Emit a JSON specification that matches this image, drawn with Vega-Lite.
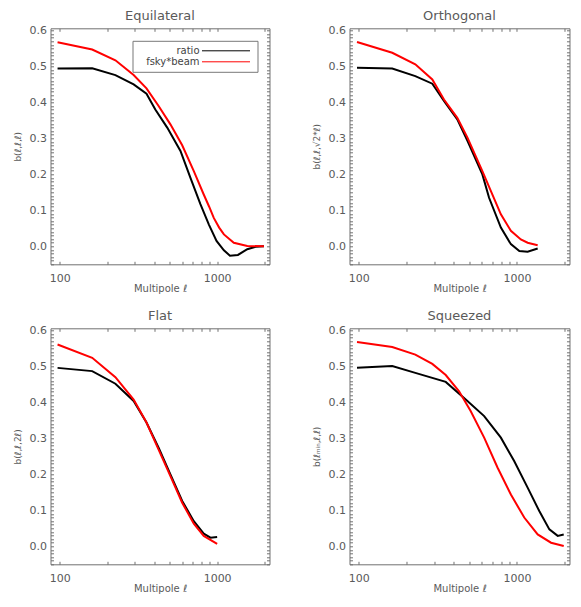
{
  "$schema": "https://vega.github.io/schema/vega-lite/v6.json",
  "padding": {"left": 12.5, "top": 10.3, "right": 5, "bottom": 5},
  "background": "white",
  "bounds": "flush",
  "columns": 2,
  "spacing": {"row": 64, "column": 80},
  "data": {"values": [
    {"shape": "Equilateral", "series": "ratio", "ell": 97, "b": 0.494},
    {"shape": "Equilateral", "series": "ratio", "ell": 161, "b": 0.495},
    {"shape": "Equilateral", "series": "ratio", "ell": 226, "b": 0.476},
    {"shape": "Equilateral", "series": "ratio", "ell": 295, "b": 0.45},
    {"shape": "Equilateral", "series": "ratio", "ell": 356, "b": 0.424},
    {"shape": "Equilateral", "series": "ratio", "ell": 405, "b": 0.38},
    {"shape": "Equilateral", "series": "ratio", "ell": 482, "b": 0.33},
    {"shape": "Equilateral", "series": "ratio", "ell": 585, "b": 0.265},
    {"shape": "Equilateral", "series": "ratio", "ell": 677, "b": 0.19},
    {"shape": "Equilateral", "series": "ratio", "ell": 783, "b": 0.117},
    {"shape": "Equilateral", "series": "ratio", "ell": 885, "b": 0.061},
    {"shape": "Equilateral", "series": "ratio", "ell": 991, "b": 0.015},
    {"shape": "Equilateral", "series": "ratio", "ell": 1104, "b": -0.011},
    {"shape": "Equilateral", "series": "ratio", "ell": 1206, "b": -0.026},
    {"shape": "Equilateral", "series": "ratio", "ell": 1355, "b": -0.024},
    {"shape": "Equilateral", "series": "ratio", "ell": 1554, "b": -0.008},
    {"shape": "Equilateral", "series": "ratio", "ell": 1754, "b": -0.001},
    {"shape": "Equilateral", "series": "ratio", "ell": 1983, "b": 0.0},
    {"shape": "Equilateral", "series": "fsky*beam", "ell": 97, "b": 0.567},
    {"shape": "Equilateral", "series": "fsky*beam", "ell": 161, "b": 0.547},
    {"shape": "Equilateral", "series": "fsky*beam", "ell": 226, "b": 0.517},
    {"shape": "Equilateral", "series": "fsky*beam", "ell": 295, "b": 0.476},
    {"shape": "Equilateral", "series": "fsky*beam", "ell": 356, "b": 0.439},
    {"shape": "Equilateral", "series": "fsky*beam", "ell": 425, "b": 0.39},
    {"shape": "Equilateral", "series": "fsky*beam", "ell": 505, "b": 0.339},
    {"shape": "Equilateral", "series": "fsky*beam", "ell": 600, "b": 0.281},
    {"shape": "Equilateral", "series": "fsky*beam", "ell": 711, "b": 0.209},
    {"shape": "Equilateral", "series": "fsky*beam", "ell": 822, "b": 0.144},
    {"shape": "Equilateral", "series": "fsky*beam", "ell": 890, "b": 0.11},
    {"shape": "Equilateral", "series": "fsky*beam", "ell": 952, "b": 0.079},
    {"shape": "Equilateral", "series": "fsky*beam", "ell": 1030, "b": 0.052},
    {"shape": "Equilateral", "series": "fsky*beam", "ell": 1104, "b": 0.033},
    {"shape": "Equilateral", "series": "fsky*beam", "ell": 1276, "b": 0.01},
    {"shape": "Equilateral", "series": "fsky*beam", "ell": 1554, "b": 0.001},
    {"shape": "Equilateral", "series": "fsky*beam", "ell": 1983, "b": 0.0},
    {"shape": "Orthogonal", "series": "ratio", "ell": 97.6, "b": 0.496},
    {"shape": "Orthogonal", "series": "ratio", "ell": 163, "b": 0.494},
    {"shape": "Orthogonal", "series": "ratio", "ell": 228, "b": 0.473},
    {"shape": "Orthogonal", "series": "ratio", "ell": 292, "b": 0.452},
    {"shape": "Orthogonal", "series": "ratio", "ell": 346, "b": 0.404},
    {"shape": "Orthogonal", "series": "ratio", "ell": 420, "b": 0.353},
    {"shape": "Orthogonal", "series": "ratio", "ell": 487, "b": 0.293},
    {"shape": "Orthogonal", "series": "ratio", "ell": 605, "b": 0.2},
    {"shape": "Orthogonal", "series": "ratio", "ell": 667, "b": 0.135},
    {"shape": "Orthogonal", "series": "ratio", "ell": 792, "b": 0.052},
    {"shape": "Orthogonal", "series": "ratio", "ell": 916, "b": 0.006},
    {"shape": "Orthogonal", "series": "ratio", "ell": 1036, "b": -0.013},
    {"shape": "Orthogonal", "series": "ratio", "ell": 1169, "b": -0.015},
    {"shape": "Orthogonal", "series": "ratio", "ell": 1353, "b": -0.006},
    {"shape": "Orthogonal", "series": "fsky*beam", "ell": 97.6, "b": 0.568},
    {"shape": "Orthogonal", "series": "fsky*beam", "ell": 163, "b": 0.538},
    {"shape": "Orthogonal", "series": "fsky*beam", "ell": 228, "b": 0.506},
    {"shape": "Orthogonal", "series": "fsky*beam", "ell": 292, "b": 0.464},
    {"shape": "Orthogonal", "series": "fsky*beam", "ell": 346, "b": 0.408},
    {"shape": "Orthogonal", "series": "fsky*beam", "ell": 420, "b": 0.357},
    {"shape": "Orthogonal", "series": "fsky*beam", "ell": 487, "b": 0.302},
    {"shape": "Orthogonal", "series": "fsky*beam", "ell": 605, "b": 0.209},
    {"shape": "Orthogonal", "series": "fsky*beam", "ell": 684, "b": 0.154},
    {"shape": "Orthogonal", "series": "fsky*beam", "ell": 792, "b": 0.089},
    {"shape": "Orthogonal", "series": "fsky*beam", "ell": 916, "b": 0.043},
    {"shape": "Orthogonal", "series": "fsky*beam", "ell": 1059, "b": 0.019},
    {"shape": "Orthogonal", "series": "fsky*beam", "ell": 1169, "b": 0.01},
    {"shape": "Orthogonal", "series": "fsky*beam", "ell": 1353, "b": 0.003},
    {"shape": "Flat", "series": "ratio", "ell": 97, "b": 0.496},
    {"shape": "Flat", "series": "ratio", "ell": 161, "b": 0.487},
    {"shape": "Flat", "series": "ratio", "ell": 226, "b": 0.452},
    {"shape": "Flat", "series": "ratio", "ell": 295, "b": 0.404},
    {"shape": "Flat", "series": "ratio", "ell": 356, "b": 0.344},
    {"shape": "Flat", "series": "ratio", "ell": 425, "b": 0.274},
    {"shape": "Flat", "series": "ratio", "ell": 505, "b": 0.2},
    {"shape": "Flat", "series": "ratio", "ell": 600, "b": 0.126},
    {"shape": "Flat", "series": "ratio", "ell": 711, "b": 0.07},
    {"shape": "Flat", "series": "ratio", "ell": 822, "b": 0.035},
    {"shape": "Flat", "series": "ratio", "ell": 907, "b": 0.024},
    {"shape": "Flat", "series": "ratio", "ell": 1000, "b": 0.026},
    {"shape": "Flat", "series": "fsky*beam", "ell": 97, "b": 0.561},
    {"shape": "Flat", "series": "fsky*beam", "ell": 161, "b": 0.524},
    {"shape": "Flat", "series": "fsky*beam", "ell": 226, "b": 0.47},
    {"shape": "Flat", "series": "fsky*beam", "ell": 295, "b": 0.408},
    {"shape": "Flat", "series": "fsky*beam", "ell": 356, "b": 0.344},
    {"shape": "Flat", "series": "fsky*beam", "ell": 425, "b": 0.269},
    {"shape": "Flat", "series": "fsky*beam", "ell": 505, "b": 0.195},
    {"shape": "Flat", "series": "fsky*beam", "ell": 600, "b": 0.121},
    {"shape": "Flat", "series": "fsky*beam", "ell": 711, "b": 0.063},
    {"shape": "Flat", "series": "fsky*beam", "ell": 822, "b": 0.029},
    {"shape": "Flat", "series": "fsky*beam", "ell": 1000, "b": 0.007},
    {"shape": "Squeezed", "series": "ratio", "ell": 97.6, "b": 0.496},
    {"shape": "Squeezed", "series": "ratio", "ell": 163, "b": 0.501},
    {"shape": "Squeezed", "series": "ratio", "ell": 228, "b": 0.482},
    {"shape": "Squeezed", "series": "ratio", "ell": 355, "b": 0.457},
    {"shape": "Squeezed", "series": "ratio", "ell": 475, "b": 0.408},
    {"shape": "Squeezed", "series": "ratio", "ell": 621, "b": 0.362},
    {"shape": "Squeezed", "series": "ratio", "ell": 792, "b": 0.302},
    {"shape": "Squeezed", "series": "ratio", "ell": 961, "b": 0.237},
    {"shape": "Squeezed", "series": "ratio", "ell": 1169, "b": 0.163},
    {"shape": "Squeezed", "series": "ratio", "ell": 1385, "b": 0.098},
    {"shape": "Squeezed", "series": "ratio", "ell": 1604, "b": 0.047},
    {"shape": "Squeezed", "series": "ratio", "ell": 1811, "b": 0.029},
    {"shape": "Squeezed", "series": "ratio", "ell": 1977, "b": 0.033},
    {"shape": "Squeezed", "series": "fsky*beam", "ell": 97.6, "b": 0.568},
    {"shape": "Squeezed", "series": "fsky*beam", "ell": 163, "b": 0.554},
    {"shape": "Squeezed", "series": "fsky*beam", "ell": 228, "b": 0.533},
    {"shape": "Squeezed", "series": "fsky*beam", "ell": 292, "b": 0.507},
    {"shape": "Squeezed", "series": "fsky*beam", "ell": 355, "b": 0.476},
    {"shape": "Squeezed", "series": "fsky*beam", "ell": 431, "b": 0.431},
    {"shape": "Squeezed", "series": "fsky*beam", "ell": 510, "b": 0.376},
    {"shape": "Squeezed", "series": "fsky*beam", "ell": 621, "b": 0.302},
    {"shape": "Squeezed", "series": "fsky*beam", "ell": 754, "b": 0.219},
    {"shape": "Squeezed", "series": "fsky*beam", "ell": 916, "b": 0.144},
    {"shape": "Squeezed", "series": "fsky*beam", "ell": 1113, "b": 0.08},
    {"shape": "Squeezed", "series": "fsky*beam", "ell": 1353, "b": 0.033},
    {"shape": "Squeezed", "series": "fsky*beam", "ell": 1644, "b": 0.01},
    {"shape": "Squeezed", "series": "fsky*beam", "ell": 1977, "b": 0.001}
  ]},
  "concat": [
    {
      "width": 219, "height": 236,
      "title": {"text": "Equilateral"},
      "transform": [{"filter": "datum.shape == 'Equilateral'"}],
      "layer": [
        {
          "mark": {"type": "line", "strokeWidth": 2},
          "encoding": {
            "x": {"field": "ell", "type": "quantitative", "scale": {"type": "log", "domain": [87.5, 2150], "nice": false},
              "axis": {"orient": "bottom", "title": "Multipole ℓ", "values": [100,200,300,400,500,600,700,800,900,1000,2000], "format": "d", "labelExpr": "datum.value == 100 || datum.value == 1000 ? datum.label : ''", "tickSize": -3, "labelPadding": 11, "titlePadding": 0.5, "labelOverlap": false, "labelFlush": false}},
            "y": {"field": "b", "type": "quantitative", "scale": {"domain": [-0.05, 0.606], "nice": false, "zero": false},
              "axis": {"orient": "left", "title": "b(ℓ,ℓ,ℓ)", "values": [-0.05,-0.04,-0.03,-0.02,-0.01,0,0.01,0.02,0.03,0.04,0.05,0.06,0.07,0.08,0.09,0.1,0.11,0.12,0.13,0.14,0.15,0.16,0.17,0.18,0.19,0.2,0.21,0.22,0.23,0.24,0.25,0.26,0.27,0.28,0.29,0.3,0.31,0.32,0.33,0.34,0.35,0.36,0.37,0.38,0.39,0.4,0.41,0.42,0.43,0.44,0.45,0.46,0.47,0.48,0.49,0.5,0.51,0.52,0.53,0.54,0.55,0.56,0.57,0.58,0.59,0.6], "labelExpr": "abs(datum.value*10 - round(datum.value*10)) < 0.001 ? format(datum.value, '.1f') : ''", "tickSize": -3, "labelPadding": 7, "titlePadding": 7, "labelOverlap": false, "labelFlush": false}},
            "color": {"field": "series", "type": "nominal", "scale": {"domain": ["ratio", "fsky*beam"], "range": ["#000000", "#ff0000"]},
              "legend": {"orient": "none", "legendX": 82, "legendY": 12.5, "title": null, "symbolType": "M-24,0H24", "symbolSize": 4, "symbolStrokeWidth": 1, "rowPadding": 1, "padding": 5, "labelAlign": "right", "labelOffset": -31.5, "symbolOffset": 83.5, "labelFontSize": 10, "labelFont": "DejaVu Sans", "labelColor": "#444444", "strokeColor": "#777777", "fillColor": "white"}}
          }
        },
        {
          "mark": {"type": "line", "opacity": 0},
          "encoding": {
            "x": {"field": "ell", "type": "quantitative", "scale": {"type": "log", "domain": [87.5, 2150], "nice": false},
              "axis": {"orient": "top", "title": null, "labels": false, "values": [100,200,300,400,500,600,700,800,900,1000,2000], "tickSize": -3}},
            "y": {"field": "b", "type": "quantitative", "scale": {"domain": [-0.05, 0.606], "nice": false, "zero": false},
              "axis": {"orient": "right", "title": null, "labels": false, "values": [-0.05,-0.04,-0.03,-0.02,-0.01,0,0.01,0.02,0.03,0.04,0.05,0.06,0.07,0.08,0.09,0.1,0.11,0.12,0.13,0.14,0.15,0.16,0.17,0.18,0.19,0.2,0.21,0.22,0.23,0.24,0.25,0.26,0.27,0.28,0.29,0.3,0.31,0.32,0.33,0.34,0.35,0.36,0.37,0.38,0.39,0.4,0.41,0.42,0.43,0.44,0.45,0.46,0.47,0.48,0.49,0.5,0.51,0.52,0.53,0.54,0.55,0.56,0.57,0.58,0.59,0.6], "tickSize": -3}},
            "detail": {"field": "series"}
          }
        }
      ],
      "resolve": {"axis": {"x": "independent", "y": "independent"}}
    },
    {
      "width": 220, "height": 236,
      "title": {"text": "Orthogonal"},
      "transform": [{"filter": "datum.shape == 'Orthogonal'"}],
      "layer": [
        {
          "mark": {"type": "line", "strokeWidth": 2},
          "encoding": {
            "x": {"field": "ell", "type": "quantitative", "scale": {"type": "log", "domain": [87.5, 2150], "nice": false},
              "axis": {"orient": "bottom", "title": "Multipole ℓ", "values": [100,200,300,400,500,600,700,800,900,1000,2000], "format": "d", "labelExpr": "datum.value == 100 || datum.value == 1000 ? datum.label : ''", "tickSize": -3, "labelPadding": 11, "titlePadding": 0.5, "labelOverlap": false, "labelFlush": false}},
            "y": {"field": "b", "type": "quantitative", "scale": {"domain": [-0.05, 0.606], "nice": false, "zero": false},
              "axis": {"orient": "left", "title": "b(ℓ,ℓ,√2*ℓ)", "values": [-0.05,-0.04,-0.03,-0.02,-0.01,0,0.01,0.02,0.03,0.04,0.05,0.06,0.07,0.08,0.09,0.1,0.11,0.12,0.13,0.14,0.15,0.16,0.17,0.18,0.19,0.2,0.21,0.22,0.23,0.24,0.25,0.26,0.27,0.28,0.29,0.3,0.31,0.32,0.33,0.34,0.35,0.36,0.37,0.38,0.39,0.4,0.41,0.42,0.43,0.44,0.45,0.46,0.47,0.48,0.49,0.5,0.51,0.52,0.53,0.54,0.55,0.56,0.57,0.58,0.59,0.6], "labelExpr": "abs(datum.value*10 - round(datum.value*10)) < 0.001 ? format(datum.value, '.1f') : ''", "tickSize": -3, "labelPadding": 7, "titlePadding": 7, "labelOverlap": false, "labelFlush": false}},
            "color": {"field": "series", "type": "nominal", "scale": {"domain": ["ratio", "fsky*beam"], "range": ["#000000", "#ff0000"]},
              "legend": {"orient": "none", "legendX": 82, "legendY": 12.5, "title": null, "symbolType": "M-24,0H24", "symbolSize": 4, "symbolStrokeWidth": 1, "rowPadding": 1, "padding": 5, "labelAlign": "right", "labelOffset": -31.5, "symbolOffset": 83.5, "labelFontSize": 10, "labelFont": "DejaVu Sans", "labelColor": "#444444", "strokeColor": "#777777", "fillColor": "white"}}
          }
        },
        {
          "mark": {"type": "line", "opacity": 0},
          "encoding": {
            "x": {"field": "ell", "type": "quantitative", "scale": {"type": "log", "domain": [87.5, 2150], "nice": false},
              "axis": {"orient": "top", "title": null, "labels": false, "values": [100,200,300,400,500,600,700,800,900,1000,2000], "tickSize": -3}},
            "y": {"field": "b", "type": "quantitative", "scale": {"domain": [-0.05, 0.606], "nice": false, "zero": false},
              "axis": {"orient": "right", "title": null, "labels": false, "values": [-0.05,-0.04,-0.03,-0.02,-0.01,0,0.01,0.02,0.03,0.04,0.05,0.06,0.07,0.08,0.09,0.1,0.11,0.12,0.13,0.14,0.15,0.16,0.17,0.18,0.19,0.2,0.21,0.22,0.23,0.24,0.25,0.26,0.27,0.28,0.29,0.3,0.31,0.32,0.33,0.34,0.35,0.36,0.37,0.38,0.39,0.4,0.41,0.42,0.43,0.44,0.45,0.46,0.47,0.48,0.49,0.5,0.51,0.52,0.53,0.54,0.55,0.56,0.57,0.58,0.59,0.6], "tickSize": -3}},
            "detail": {"field": "series"}
          }
        }
      ],
      "resolve": {"axis": {"x": "independent", "y": "independent"}}
    },
    {
      "width": 219, "height": 236,
      "title": {"text": "Flat"},
      "transform": [{"filter": "datum.shape == 'Flat'"}],
      "layer": [
        {
          "mark": {"type": "line", "strokeWidth": 2},
          "encoding": {
            "x": {"field": "ell", "type": "quantitative", "scale": {"type": "log", "domain": [87.5, 2150], "nice": false},
              "axis": {"orient": "bottom", "title": "Multipole ℓ", "values": [100,200,300,400,500,600,700,800,900,1000,2000], "format": "d", "labelExpr": "datum.value == 100 || datum.value == 1000 ? datum.label : ''", "tickSize": -3, "labelPadding": 11, "titlePadding": 0.5, "labelOverlap": false, "labelFlush": false}},
            "y": {"field": "b", "type": "quantitative", "scale": {"domain": [-0.05, 0.606], "nice": false, "zero": false},
              "axis": {"orient": "left", "title": "b(ℓ,ℓ,2ℓ)", "values": [-0.05,-0.04,-0.03,-0.02,-0.01,0,0.01,0.02,0.03,0.04,0.05,0.06,0.07,0.08,0.09,0.1,0.11,0.12,0.13,0.14,0.15,0.16,0.17,0.18,0.19,0.2,0.21,0.22,0.23,0.24,0.25,0.26,0.27,0.28,0.29,0.3,0.31,0.32,0.33,0.34,0.35,0.36,0.37,0.38,0.39,0.4,0.41,0.42,0.43,0.44,0.45,0.46,0.47,0.48,0.49,0.5,0.51,0.52,0.53,0.54,0.55,0.56,0.57,0.58,0.59,0.6], "labelExpr": "abs(datum.value*10 - round(datum.value*10)) < 0.001 ? format(datum.value, '.1f') : ''", "tickSize": -3, "labelPadding": 7, "titlePadding": 7, "labelOverlap": false, "labelFlush": false}},
            "color": {"field": "series", "type": "nominal", "scale": {"domain": ["ratio", "fsky*beam"], "range": ["#000000", "#ff0000"]},
              "legend": {"orient": "none", "legendX": 82, "legendY": 12.5, "title": null, "symbolType": "M-24,0H24", "symbolSize": 4, "symbolStrokeWidth": 1, "rowPadding": 1, "padding": 5, "labelAlign": "right", "labelOffset": -31.5, "symbolOffset": 83.5, "labelFontSize": 10, "labelFont": "DejaVu Sans", "labelColor": "#444444", "strokeColor": "#777777", "fillColor": "white"}}
          }
        },
        {
          "mark": {"type": "line", "opacity": 0},
          "encoding": {
            "x": {"field": "ell", "type": "quantitative", "scale": {"type": "log", "domain": [87.5, 2150], "nice": false},
              "axis": {"orient": "top", "title": null, "labels": false, "values": [100,200,300,400,500,600,700,800,900,1000,2000], "tickSize": -3}},
            "y": {"field": "b", "type": "quantitative", "scale": {"domain": [-0.05, 0.606], "nice": false, "zero": false},
              "axis": {"orient": "right", "title": null, "labels": false, "values": [-0.05,-0.04,-0.03,-0.02,-0.01,0,0.01,0.02,0.03,0.04,0.05,0.06,0.07,0.08,0.09,0.1,0.11,0.12,0.13,0.14,0.15,0.16,0.17,0.18,0.19,0.2,0.21,0.22,0.23,0.24,0.25,0.26,0.27,0.28,0.29,0.3,0.31,0.32,0.33,0.34,0.35,0.36,0.37,0.38,0.39,0.4,0.41,0.42,0.43,0.44,0.45,0.46,0.47,0.48,0.49,0.5,0.51,0.52,0.53,0.54,0.55,0.56,0.57,0.58,0.59,0.6], "tickSize": -3}},
            "detail": {"field": "series"}
          }
        }
      ],
      "resolve": {"axis": {"x": "independent", "y": "independent"}}
    },
    {
      "width": 220, "height": 236,
      "title": {"text": "Squeezed"},
      "transform": [{"filter": "datum.shape == 'Squeezed'"}],
      "layer": [
        {
          "mark": {"type": "line", "strokeWidth": 2},
          "encoding": {
            "x": {"field": "ell", "type": "quantitative", "scale": {"type": "log", "domain": [87.5, 2150], "nice": false},
              "axis": {"orient": "bottom", "title": "Multipole ℓ", "values": [100,200,300,400,500,600,700,800,900,1000,2000], "format": "d", "labelExpr": "datum.value == 100 || datum.value == 1000 ? datum.label : ''", "tickSize": -3, "labelPadding": 11, "titlePadding": 0.5, "labelOverlap": false, "labelFlush": false}},
            "y": {"field": "b", "type": "quantitative", "scale": {"domain": [-0.05, 0.606], "nice": false, "zero": false},
              "axis": {"orient": "left", "title": "b(ℓₘᵢₙ,ℓ,ℓ)", "values": [-0.05,-0.04,-0.03,-0.02,-0.01,0,0.01,0.02,0.03,0.04,0.05,0.06,0.07,0.08,0.09,0.1,0.11,0.12,0.13,0.14,0.15,0.16,0.17,0.18,0.19,0.2,0.21,0.22,0.23,0.24,0.25,0.26,0.27,0.28,0.29,0.3,0.31,0.32,0.33,0.34,0.35,0.36,0.37,0.38,0.39,0.4,0.41,0.42,0.43,0.44,0.45,0.46,0.47,0.48,0.49,0.5,0.51,0.52,0.53,0.54,0.55,0.56,0.57,0.58,0.59,0.6], "labelExpr": "abs(datum.value*10 - round(datum.value*10)) < 0.001 ? format(datum.value, '.1f') : ''", "tickSize": -3, "labelPadding": 7, "titlePadding": 7, "labelOverlap": false, "labelFlush": false}},
            "color": {"field": "series", "type": "nominal", "scale": {"domain": ["ratio", "fsky*beam"], "range": ["#000000", "#ff0000"]},
              "legend": {"orient": "none", "legendX": 82, "legendY": 12.5, "title": null, "symbolType": "M-24,0H24", "symbolSize": 4, "symbolStrokeWidth": 1, "rowPadding": 1, "padding": 5, "labelAlign": "right", "labelOffset": -31.5, "symbolOffset": 83.5, "labelFontSize": 10, "labelFont": "DejaVu Sans", "labelColor": "#444444", "strokeColor": "#777777", "fillColor": "white"}}
          }
        },
        {
          "mark": {"type": "line", "opacity": 0},
          "encoding": {
            "x": {"field": "ell", "type": "quantitative", "scale": {"type": "log", "domain": [87.5, 2150], "nice": false},
              "axis": {"orient": "top", "title": null, "labels": false, "values": [100,200,300,400,500,600,700,800,900,1000,2000], "tickSize": -3}},
            "y": {"field": "b", "type": "quantitative", "scale": {"domain": [-0.05, 0.606], "nice": false, "zero": false},
              "axis": {"orient": "right", "title": null, "labels": false, "values": [-0.05,-0.04,-0.03,-0.02,-0.01,0,0.01,0.02,0.03,0.04,0.05,0.06,0.07,0.08,0.09,0.1,0.11,0.12,0.13,0.14,0.15,0.16,0.17,0.18,0.19,0.2,0.21,0.22,0.23,0.24,0.25,0.26,0.27,0.28,0.29,0.3,0.31,0.32,0.33,0.34,0.35,0.36,0.37,0.38,0.39,0.4,0.41,0.42,0.43,0.44,0.45,0.46,0.47,0.48,0.49,0.5,0.51,0.52,0.53,0.54,0.55,0.56,0.57,0.58,0.59,0.6], "tickSize": -3}},
            "detail": {"field": "series"}
          }
        }
      ],
      "resolve": {"axis": {"x": "independent", "y": "independent"}}
    }
  ],
  "config": {
    "view": {"stroke": null},
    "axis": {"domainColor": "#707070", "tickColor": "#707070", "labelColor": "#5a5a5a", "titleColor": "#5a5a5a", "labelFont": "DejaVu Sans", "titleFont": "DejaVu Sans", "labelFontSize": 11, "titleFontSize": 10, "titleFontWeight": "normal", "grid": false, "domainWidth": 1, "tickWidth": 1},
    "axisY": {"titleFontSize": 9},
    "title": {"font": "DejaVu Sans", "fontSize": 13, "fontWeight": "normal", "color": "#5a5a5a", "offset": 1}
  }
}
